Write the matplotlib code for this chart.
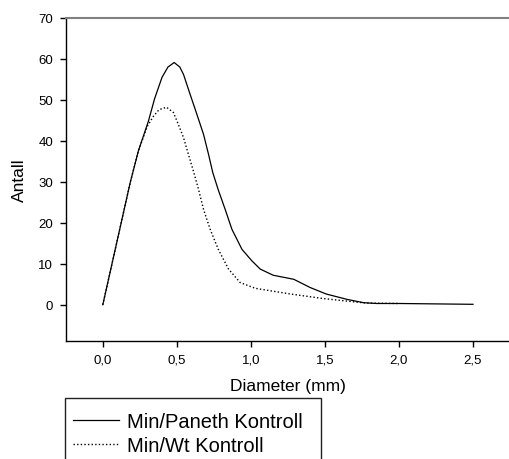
import matplotlib
matplotlib.use("Agg")
import matplotlib.pyplot as plt
from matplotlib.patches import Rectangle
from matplotlib.ticker import FuncFormatter

plt.rcParams["font.family"] = ["Liberation Sans", "DejaVu Sans"]

# particle size distributions, diameter in mm vs count
paneth_x = [0, 0.185, 0.24, 0.308, 0.35, 0.40, 0.44, 0.482, 0.52, 0.545, 0.59,
            0.635, 0.68, 0.714, 0.743, 0.78, 0.826, 0.872, 0.94, 1.007, 1.063,
            1.15, 1.29, 1.40, 1.51, 1.65, 1.76, 1.85, 2.0, 2.5]
paneth_y = [0, 29.8, 37.5, 44.8, 50.3, 55.5, 58.0, 59.1, 58.0, 56.2, 51.3,
            46.5, 41.6, 36.7, 32.2, 28.0, 23.3, 18.4, 13.5, 10.7, 8.7,
            7.2, 6.2, 4.2, 2.6, 1.3, 0.5, 0.3, 0.3, 0.1]

wt_x = [0, 0.185, 0.24, 0.30, 0.342, 0.38, 0.43, 0.477, 0.51, 0.545, 0.578,
        0.612, 0.646, 0.68, 0.725, 0.78, 0.849, 0.928, 1.03, 1.27, 1.49,
        1.67, 1.78, 2.0]
wt_y = [0, 29.8, 37.5, 43.5, 46.0, 47.6, 48.2, 46.9, 44.0, 40.8, 36.7,
        32.6, 28.2, 23.3, 18.4, 13.5, 8.7, 5.4, 4.0, 2.6, 1.5,
        0.8, 0.4, 0.3]

x_ticks = [0.0, 0.5, 1.0, 1.5, 2.0, 2.5]
y_ticks = [0, 10, 20, 30, 40, 50, 60, 70]

fig = plt.figure(figsize=(5.1, 4.6), dpi=100)
ax = fig.add_axes([0.129, 0.257, 0.871, 0.702])

ax.plot(paneth_x, paneth_y, color="black", lw=0.9, label="Min/Paneth Kontroll")
ax.plot(wt_x, wt_y, color="black", lw=1.0, linestyle=(0, (1, 1.6)),
        label="Min/Wt Kontroll")

ax.set_xlim(-0.25, 2.75)
ax.set_ylim(-8.8, 70)
ax.set_xticks(x_ticks)
ax.set_yticks(y_ticks)
ax.xaxis.set_major_formatter(FuncFormatter(lambda v, p: f"{v:.1f}".replace(".", ",")))
ax.tick_params(direction="out", length=4, width=1, labelsize=9.5, pad=5)

ax.spines["right"].set_visible(False)
ax.spines["top"].set_color("#808080")
ax.spines["top"].set_linewidth(1.5)
ax.spines["left"].set_linewidth(1)
ax.spines["bottom"].set_linewidth(1)

ax.set_xlabel("Diameter (mm)", fontsize=12.5, labelpad=9)
ax.set_ylabel("Antall", fontsize=12.5, labelpad=8)

# legend box runs off the bottom edge of the figure
fig.patches.append(Rectangle((65 / 510, -0.05), (321 - 65) / 510, 0.05 + 61 / 460,
                             transform=fig.transFigure, fill=False,
                             edgecolor="#222222", linewidth=1.0))
fig.legend(loc="upper left", bbox_to_anchor=(65 / 510, 1 - 405 / 460),
           bbox_transform=fig.transFigure, fontsize=14.5, frameon=False,
           borderaxespad=0, borderpad=0.4,
           handlelength=2.3, handletextpad=0.4, labelspacing=0.25)

fig.savefig("out.png", dpi=100)
